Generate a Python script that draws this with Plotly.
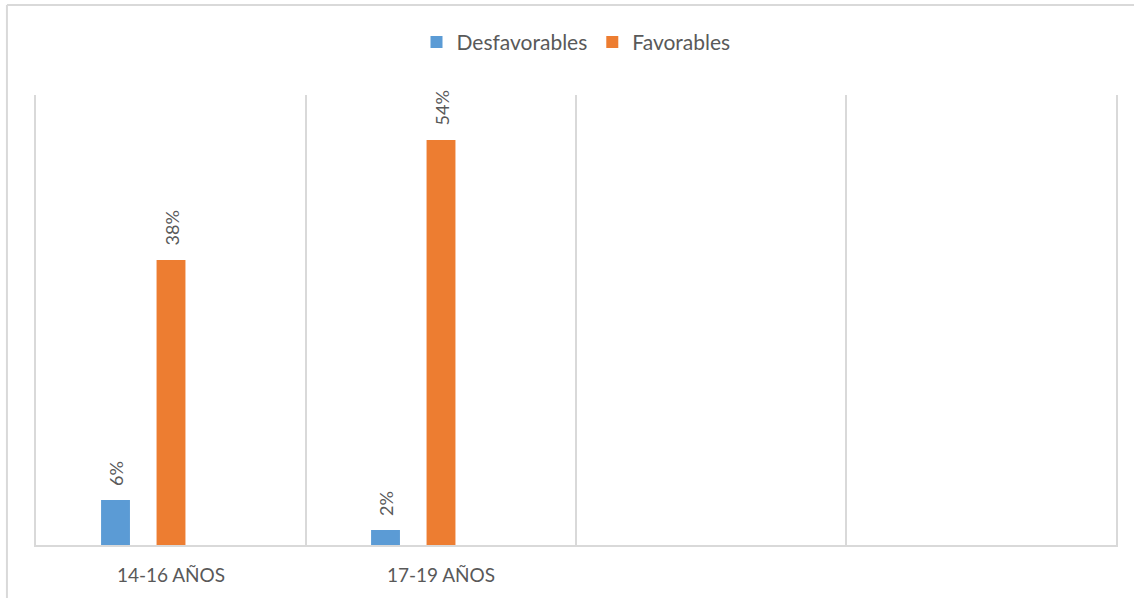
import plotly.graph_objects as go

categories = ["14-16 AÑOS", "17-19 AÑOS"]
empty_slots = [" ", "  "]
desfavorables = [0.06, 0.02]
favorables = [0.38, 0.54]
series_names = ["Desfavorables", "Favorables"]

BLUE = "#5B9BD5"
ORANGE = "#ED7D31"
GREY_TEXT = "#595959"
GRID = "#D9D9D9"
FONT = "Lato"

bar_width = 0.107
offsets = [-0.259, -0.0535]

fig = go.Figure()
for name, vals, col, off in zip(series_names, [desfavorables, favorables], [BLUE, ORANGE], offsets):
    fig.add_trace(go.Bar(
        name=name, x=categories, y=vals, marker=dict(color=col, line=dict(width=0)),
        width=bar_width, offset=off,
    ))
    for i, v in enumerate(vals):
        fig.add_annotation(
            x=i + off + bar_width / 2, y=v, xref="x", yref="y",
            text=f"{round(v * 100)}%", textangle=-90, showarrow=False,
            yanchor="bottom", xanchor="center", yshift=12,
            font=dict(family=FONT, size=18, color=GREY_TEXT),
        )

fig.update_layout(
    width=1134, height=598,
    barmode="overlay",
    paper_bgcolor="white", plot_bgcolor="white",
    margin=dict(l=36, r=18, t=95, b=53, autoexpand=False),
    font=dict(family=FONT, color=GREY_TEXT),
    legend=dict(orientation="h", x=0.5, xanchor="center", y=1.117, yanchor="middle",
                font=dict(family=FONT, size=21, color=GREY_TEXT), itemwidth=30,
                bgcolor="rgba(0,0,0,0)"),
    xaxis=dict(
        type="category", categoryorder="array", categoryarray=categories + empty_slots,
        range=[-0.5, 3.5], tickson="boundaries", ticks="",
        showgrid=True, gridcolor=GRID, gridwidth=1.5,
        showline=True, linecolor=GRID, linewidth=1.5,
        tickfont=dict(family=FONT, size=19, color=GREY_TEXT), ticklabelstandoff=12,
    ),
    yaxis=dict(range=[0, 0.6], showgrid=False, showticklabels=False, zeroline=False,
               showline=True, mirror=True, linecolor=GRID, linewidth=1.5, ticks=""),
    shapes=[
        dict(type="line", xref="paper", yref="paper", x0=-0.0269, x1=1.0167, y0=1.2, y1=1.2,
             line=dict(color=GRID, width=2)),
        dict(type="line", xref="paper", yref="paper", x0=-0.0269, x1=-0.0269, y0=1.2, y1=-0.2,
             line=dict(color=GRID, width=2)),
    ],
)

fig.write_html("out.html")
